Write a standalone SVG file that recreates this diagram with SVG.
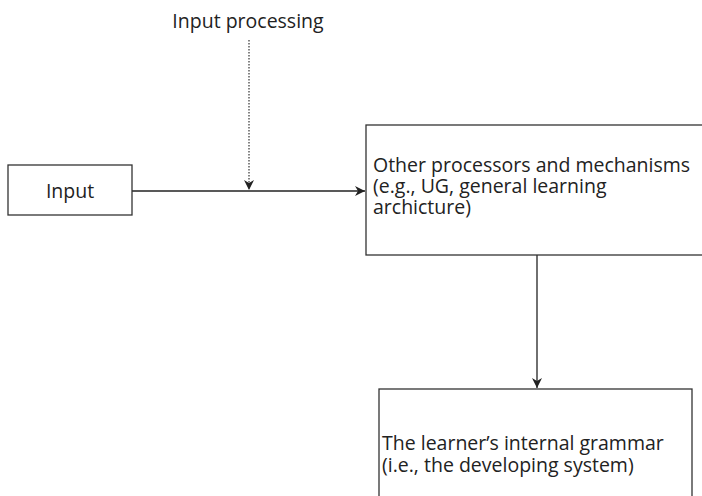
<svg xmlns="http://www.w3.org/2000/svg" width="702" height="496" viewBox="0 0 702 496">
<style>
.box{fill:#fff;stroke:#333;stroke-width:1.3}
.t{font-family:"Open Sans","Liberation Sans",sans-serif;font-size:19.5px;fill:#222}
.c{fill:none;stroke:#222;stroke-width:1.3}
.d{fill:none;stroke:#333;stroke-width:1.2;stroke-dasharray:1.5 1.5}
</style>
<defs>
<marker id="ah" viewBox="0 0 10 10" refX="10" refY="5" markerWidth="10" markerHeight="10" markerUnits="userSpaceOnUse" orient="auto">
<path d="M0,0 L10,5 L0,10 L3,5 Z" fill="#222"/>
</marker>
</defs>
<g id="connectors">
<line class="c" x1="132" y1="191" x2="365" y2="191" marker-end="url(#ah)"/>
<line class="d" x1="249" y1="40" x2="249" y2="190" marker-end="url(#ah)"/>
<line class="c" x1="537" y1="255" x2="537" y2="388" marker-end="url(#ah)"/>
</g>
<g id="label-input-processing">
<text class="t" x="248" y="28" text-anchor="middle">Input processing</text>
</g>
<g id="node-input">
<rect class="box" x="8" y="165" width="124" height="50"/>
<text class="t" x="70" y="198" text-anchor="middle">Input</text>
</g>
<g id="node-processors">
<rect class="box" x="366" y="125" width="345" height="130"/>
<text class="t" x="373" y="172">Other processors and mechanisms</text>
<text class="t" x="373" y="193">(e.g., UG, general learning</text>
<text class="t" x="373" y="214">archicture)</text>
</g>
<g id="node-grammar">
<rect class="box" x="379" y="389" width="313" height="120"/>
<text class="t" x="382" y="450">The learner’s internal grammar</text>
<text class="t" x="382" y="472">(i.e., the developing system)</text>
</g>
</svg>
